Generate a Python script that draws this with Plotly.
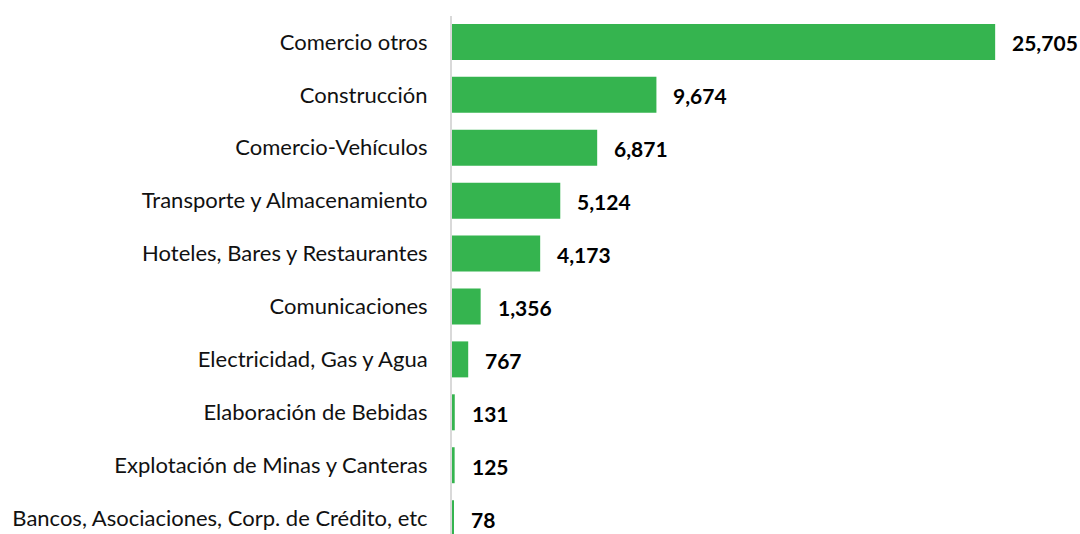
import plotly.graph_objects as go

categories = [
    "Comercio otros",
    "Construcción",
    "Comercio-Vehículos",
    "Transporte y Almacenamiento",
    "Hoteles, Bares y Restaurantes",
    "Comunicaciones",
    "Electricidad, Gas y Agua",
    "Elaboración de Bebidas",
    "Explotación de Minas y Canteras",
    "Bancos, Asociaciones, Corp. de Crédito, etc",
]
values = [25705, 9674, 6871, 5124, 4173, 1356, 767, 131, 125, 78]
value_labels = [f"{v:,}" for v in values]

BAR_COLOR = "rgb(53,180,79)"
FONT = "Lato"

fig = go.Figure()
fig.add_trace(go.Bar(
    y=categories,
    x=values,
    orientation="h",
    marker=dict(color=BAR_COLOR, line=dict(width=0)),
    width=0.68,
    hoverinfo="skip",
))

for c, v, t in zip(categories, values, value_labels):
    fig.add_annotation(
        x=v, y=c, text=f"<b>{t}</b>", showarrow=False,
        xanchor="left", yanchor="middle", xshift=15, yshift=-1,
        font=dict(family=FONT, size=21, color="#000000"),
    )

fig.update_layout(
    width=1080, height=534,
    margin=dict(l=452, r=0, t=16, b=0),
    paper_bgcolor="white", plot_bgcolor="white",
    showlegend=False,
    font=dict(family=FONT, size=22, color="#111111"),
)
fig.update_xaxes(
    range=[0, 29720], visible=False, showgrid=False, zeroline=False,
)
fig.update_yaxes(
    categoryorder="array", categoryarray=categories,
    range=[9.30, -0.49],
    showline=True, linecolor="#d9d9d9", linewidth=2,
    ticks="", showgrid=False, zeroline=False,
    ticklabelstandoff=18,
    tickfont=dict(family=FONT, size=22, color="#111111"),
)

fig.write_html(
    "out.html",
    config={"displayModeBar": False},
    post_script="document.body.style.margin='0';document.body.style.overflow='hidden';",
)
